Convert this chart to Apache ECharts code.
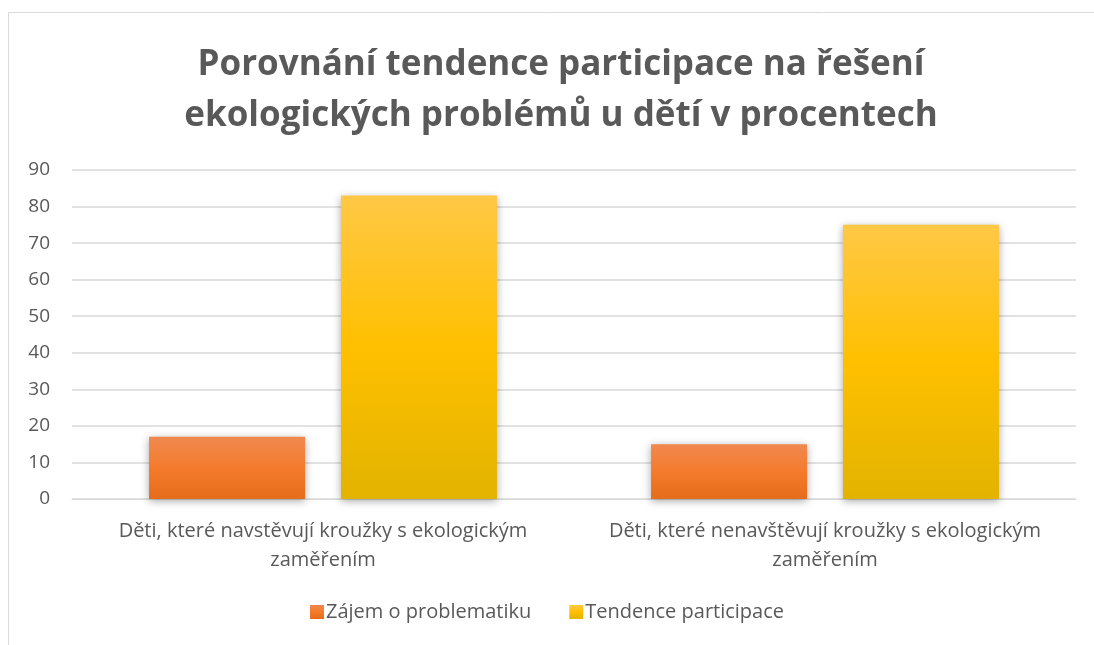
<!DOCTYPE html>
<html>
<head>
<meta charset="utf-8">
<script src="https://cdn.jsdelivr.net/npm/echarts@6/dist/echarts.min.js"></script>
<style>
  html, body { margin: 0; padding: 0; background: #fff; }
  #chart { width: 1094px; height: 645px; }
</style>
</head>
<body>
<div id="chart"></div>
<script>
var categories = [
    "Děti, které navstěvují kroužky s ekologickým\nzaměřením",
    "Děti, které nenavštěvují kroužky s ekologickým\nzaměřením"
];
var zajem = [17, 15];
var tendence = [83, 75];
var seriesNames = ["Zájem o problematiku", "Tendence participace"];

var textColor = "#595959";

function grad(top, mid, bottom) {
    return new echarts.graphic.LinearGradient(0, 0, 0, 1, [
        { offset: 0, color: top },
        { offset: 0.5, color: mid },
        { offset: 1, color: bottom }
    ]);
}

var myChart = echarts.init(document.getElementById("chart"));

var option = {
    animation: false,
    textStyle: { fontFamily: "Open Sans" },
    graphic: [{
        type: "rect",
        shape: { x: 8.5, y: 12.5, width: 1200, height: 800 },
        style: { fill: "none", stroke: "#d9d9d9", lineWidth: 1 },
        silent: true
    }],
    title: {
        text: "Porovnání tendence participace na řešení\nekologických problémů u dětí v procentech",
        left: 556,
        textAlign: "center",
        top: 35,
        textStyle: {
            color: textColor,
            fontSize: 35,
            fontWeight: "bold",
            lineHeight: 51,
            fontFamily: "Open Sans"
        }
    },
    legend: {
        bottom: 18,
        left: "center",
        itemWidth: 14,
        itemHeight: 14,
        itemGap: 38,
        icon: "rect",
        textStyle: { color: textColor, fontSize: 20, padding: [0, 0, 0, -3] },
        data: seriesNames
    },
    grid: { left: 72, right: 18, top: 170, bottom: 146 },
    xAxis: {
        type: "category",
        data: categories,
        axisLine: { lineStyle: { color: "#d9d9d9", width: 1 } },
        axisTick: { show: false },
        axisLabel: {
            color: textColor,
            fontSize: 20,
            lineHeight: 29,
            margin: 18,
            interval: 0,
            hideOverlap: false
        }
    },
    yAxis: {
        type: "value",
        min: 0,
        max: 90,
        interval: 10,
        axisLine: { show: false },
        axisTick: { show: false },
        axisLabel: { color: textColor, fontSize: 19, margin: 22 },
        splitLine: { lineStyle: { color: "#d9d9d9", width: 1.5 } }
    },
    series: [{
        name: seriesNames[0],
        type: "bar",
        data: zajem,
        barWidth: 156,
        barGap: "23%",
        itemStyle: {
            color: grad("#f0894f", "#f47b2c", "#e46c1a"),
            shadowColor: "rgba(0,0,0,0.35)",
            shadowBlur: 8,
            shadowOffsetY: 2
        }
    }, {
        name: seriesNames[1],
        type: "bar",
        data: tendence,
        barWidth: 156,
        itemStyle: {
            color: grad("#ffc845", "#ffc000", "#e2b300"),
            shadowColor: "rgba(0,0,0,0.35)",
            shadowBlur: 8,
            shadowOffsetY: 2
        }
    }]
};

myChart.setOption(option);
</script>
</body>
</html>
